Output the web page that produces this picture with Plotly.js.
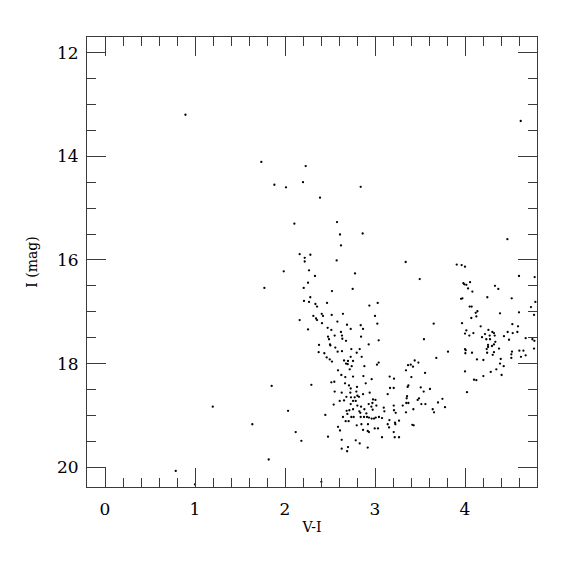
<!DOCTYPE html>
<html>
<head>
<meta charset="utf-8">
<script src="https://cdn.plot.ly/plotly-3.0.1.min.js"></script>
<style>html,body{margin:0;padding:0;background:#fff;}#chart{width:575px;height:575px;}</style>
</head>
<body>
<div id="chart"></div>
<script>
// V-I colour and I magnitude of each star
var vi = [
0.894,4.619,1.737,2.230,1.882,2.011,2.200,2.389,2.104,2.578,2.163,2.282,2.219,
2.841,2.611,2.863,2.622,4.471,
2.219,1.986,2.267,2.333,2.256,1.771,2.208,2.281,2.211,2.267,2.338,2.356,2.467,
2.315,2.345,2.356,2.408,2.422,2.163,2.411,2.256,2.474,2.478,2.489,2.378,2.500,
2.374,2.437,2.463,2.497,
2.574,3.341,2.778,3.497,2.752,2.522,3.030,2.937,2.644,2.519,3.000,2.582,3.026,
3.652,2.689,2.841,2.867,2.515,2.730,2.622,2.552,2.633,2.845,2.637,2.678,3.041,
3.544,2.504,2.559,2.633,2.585,2.737,2.830,2.930,2.797,2.730,2.852,3.681,2.522,
2.656,2.700,2.756,2.678,2.697,2.741,2.882,3.041,3.022,3.441,3.482,3.367,3.397,
3.422,3.344,3.556,2.589,2.719,2.626,2.670,2.756,2.871,2.515,2.548,2.963,3.163,
3.211,3.404,2.667,2.711,2.897,3.371,3.363,3.167,3.208,3.508,3.611,2.730,2.800,
2.552,2.630,2.726,2.793,2.941,2.867,3.541,3.141,2.682,2.733,2.774,2.804,2.822,
3.356,3.352,3.474,3.489,2.608,2.656,2.756,2.786,2.978,3.005,2.971,3.015,2.541,
2.730,2.804,2.845,2.930,2.960,3.097,3.208,3.348,3.371,3.308,3.515,3.560,3.700,
3.778,2.685,2.715,2.756,2.826,2.882,2.693,2.837,2.904,2.974,3.104,3.211,3.230,
3.344,3.426,3.641,3.656,2.644,2.674,2.707,2.737,2.763,2.841,2.878,2.911,2.933,
2.963,2.989,3.008,3.044,3.078,3.160,3.141,3.267,3.222,3.226,2.797,2.849,2.922,
2.589,2.611,2.867,2.919,2.933,2.997,3.033,3.156,3.208,3.219,3.267,3.415,3.430,
3.078,2.630,2.786,2.830,2.700,2.919,2.630,2.690,
1.852,2.293,2.034,1.637,2.448,2.119,2.478,2.182,1.819,2.404,1.197,0.786,1.000,
3.908,3.963,4.000,4.600,4.774,3.982,3.993,4.015,4.056,4.034,4.333,4.370,4.082,
3.956,3.971,4.248,4.519,4.782,4.052,4.074,4.733,4.119,4.138,4.389,4.600,4.767,
4.070,4.126,3.967,4.174,4.526,4.589,4.015,4.000,4.048,4.093,4.260,4.304,4.322,
4.474,4.530,4.582,4.222,4.189,4.274,4.330,4.237,4.278,4.433,4.489,4.674,4.749,
4.771,4.256,4.256,4.300,4.322,4.337,4.378,4.241,3.811,4.000,4.008,4.078,4.004,
4.246,4.322,4.522,4.604,4.649,4.515,4.622,4.674,4.767,4.308,4.133,4.204,4.397,
4.515,4.389,4.430,4.348,4.286,4.000,4.407,4.204,4.100,4.126,4.022,3.749
];
var imag = [
13.20,13.32,14.11,14.19,14.55,14.60,14.50,14.80,15.30,15.27,15.89,15.90,15.96,
14.59,15.51,15.49,15.72,15.60,
16.03,16.22,16.20,16.31,16.44,16.54,16.54,16.72,16.79,16.81,16.85,16.90,16.83,
17.08,17.13,17.16,17.04,17.08,17.16,17.22,17.34,17.31,17.48,17.53,17.64,17.63,
17.78,17.80,17.88,17.92,
16.01,16.04,16.26,16.37,16.56,16.60,16.83,16.88,17.04,17.06,17.08,17.19,17.23,
17.23,17.25,17.26,17.33,17.35,17.33,17.39,17.46,17.46,17.48,17.52,17.56,17.55,
17.53,17.65,17.69,17.76,17.77,17.72,17.72,17.63,17.79,17.87,17.87,17.89,17.96,
17.94,17.95,17.95,18.00,18.01,18.05,18.05,17.98,18.02,17.94,17.98,18.03,18.02,
18.06,18.13,18.18,18.13,18.11,18.22,18.26,18.25,18.24,18.36,18.35,18.30,18.25,
18.29,18.26,18.38,18.42,18.38,18.42,18.45,18.47,18.47,18.46,18.49,18.48,18.45,
18.54,18.56,18.56,18.54,18.56,18.59,18.54,18.59,18.64,18.65,18.65,18.62,18.64,
18.63,18.67,18.70,18.67,18.72,18.71,18.72,18.72,18.69,18.70,18.76,18.81,18.79,
18.78,18.81,18.83,18.78,18.83,18.85,18.81,18.76,18.76,18.81,18.78,18.78,18.75,
18.84,18.91,18.90,18.88,18.92,18.88,18.97,18.95,18.96,18.89,18.92,18.90,18.95,
18.94,18.88,18.88,18.94,19.03,19.11,19.11,19.03,19.03,19.03,19.03,19.03,19.04,
19.06,19.06,19.04,19.03,19.05,19.09,19.17,19.10,19.14,19.17,19.19,19.17,19.17,
19.22,19.29,19.28,19.30,19.32,19.25,19.25,19.23,19.32,19.42,19.42,19.18,19.19,
19.42,19.47,19.48,19.54,19.61,19.62,19.64,19.69,
18.43,18.41,18.91,19.17,18.99,19.32,19.41,19.49,19.85,20.28,18.83,20.07,20.33,
16.09,16.10,16.13,16.31,16.33,16.45,16.47,16.48,16.43,16.55,16.50,16.56,16.61,
16.75,16.74,16.72,16.74,16.81,16.90,16.90,16.91,17.02,16.99,17.03,17.01,17.06,
17.12,17.09,17.22,17.28,17.24,17.28,17.36,17.42,17.46,17.41,17.35,17.39,17.41,
17.39,17.41,17.39,17.43,17.49,17.46,17.46,17.53,17.53,17.47,17.54,17.51,17.53,
17.56,17.64,17.68,17.66,17.63,17.58,17.71,17.72,17.77,17.72,17.74,17.79,17.80,
17.79,17.78,17.77,17.75,17.75,17.82,17.87,17.84,17.71,17.83,17.92,17.93,17.91,
17.89,18.00,18.05,18.11,18.16,18.15,18.22,18.24,18.31,18.32,18.55,18.68
];
var xTickVals = [0, 1, 2, 3, 4];
var xTickText = ['0', '1', '2', '3', '4'];
var yTickVals = [12, 14, 16, 18, 20];
var yTickText = ['12', '14', '16', '18', '20'];

var axisColor = '#3a3a3a';
var font = 'DejaVu Serif, Liberation Serif, serif';

var trace = {
  x: vi, y: imag, type: 'scatter', mode: 'markers',
  marker: {color: '#000', size: 2.3, symbol: 'circle', line: {width: 0}},
  hoverinfo: 'x+y'
};

var layout = {
  width: 575, height: 575,
  margin: {l: 87, r: 38, t: 37, b: 88, pad: 0},
  paper_bgcolor: '#fff', plot_bgcolor: '#fff',
  showlegend: false,
  font: {family: font, color: '#000'},
  xaxis: {
    range: [-0.2, 4.8], showgrid: false, zeroline: false,
    showline: true, linecolor: axisColor, linewidth: 1, mirror: 'allticks',
    ticks: 'inside', ticklen: 19, tickwidth: 1, tickcolor: axisColor,
    tickmode: 'array', tickvals: xTickVals, ticktext: xTickText,
    tickfont: {family: font, size: 17, color: '#000'},
    ticklabelstandoff: 7,
    minor: {dtick: 0.2, tick0: 0, ticks: 'inside', ticklen: 9, tickwidth: 1, tickcolor: axisColor, showgrid: false},
    title: {text: 'V-I', font: {family: font, size: 14, color: '#000'}, standoff: 3}
  },
  yaxis: {
    range: [20.38, 11.70], showgrid: false, zeroline: false,
    showline: true, linecolor: axisColor, linewidth: 1, mirror: 'allticks',
    ticks: 'inside', ticklen: 19, tickwidth: 1, tickcolor: axisColor,
    tickmode: 'array', tickvals: yTickVals, ticktext: yTickText,
    tickfont: {family: font, size: 17, color: '#000'},
    ticklabelstandoff: 4,
    minor: {dtick: 0.5, tick0: 12, ticks: 'inside', ticklen: 9, tickwidth: 1, tickcolor: axisColor, showgrid: false},
    title: {text: 'I (mag)', font: {family: font, size: 14, color: '#000'}, standoff: 16}
  }
};

Plotly.newPlot('chart', [trace], layout, {displayModeBar: false, staticPlot: true});
</script>
</body>
</html>
